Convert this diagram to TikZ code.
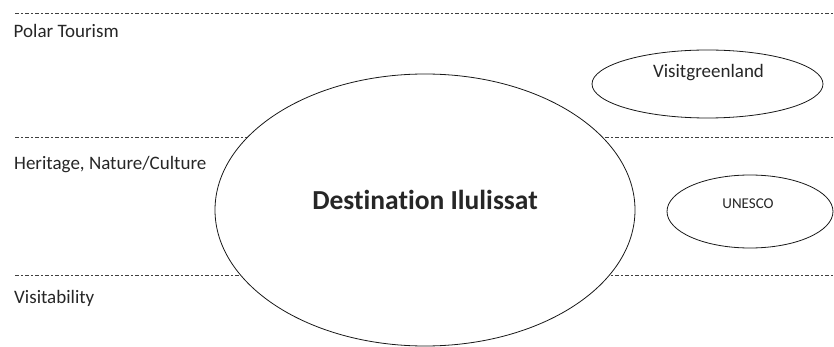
\documentclass[tikz,border=0pt]{standalone}
\usepackage{fontspec}
\setmainfont[Ligatures=NoCommon]{Carlito}
\begin{document}
\begin{tikzpicture}[x=1pt,y=-1pt,
  level/.style={draw=black!75, line width=0.75pt,
    dash pattern=on 4pt off 2.4pt on 1.2pt off 2.4pt},
  oval/.style={draw=black!90, line width=0.8pt, fill=white},
  bandlabel/.style={anchor=base west, inner sep=0pt, text=black!85,
    font=\fontsize{19}{22}\selectfont},
  ovallabel/.style={anchor=base, inner sep=0pt, text=black!85}]
\useasboundingbox (0,0) rectangle (834,347);

% band boundaries
\coordinate (l1a) at (15,13);   \coordinate (l1b) at (834,13);
\coordinate (l2a) at (15,137);  \coordinate (l2b) at (834,137);
\coordinate (l3a) at (15,275);  \coordinate (l3b) at (834,275);
\draw[level] (l1a) -- (l1b);
\draw[level] (l2a) -- (l2b);
\draw[level] (l3a) -- (l3b);

% band names
\node[bandlabel] (polar) at (13.5,37.5) {Polar Tourism};
\node[bandlabel] (heritage) at (14,170) {Heritage, Nature/Culture};
\node[bandlabel] (visit) at (14,303) {Visitability};

% ovals
\begin{scope}
\clip (0,0) rectangle (834,347);
\draw[oval] (425,210) ellipse [x radius=210, y radius=136];
\draw[oval] (707.5,84) ellipse [x radius=115.5, y radius=34];
\draw[oval] (750,211.5) ellipse [x radius=83, y radius=36.5];
\end{scope}

\node[ovallabel, font=\bfseries\fontsize{27.5}{32}\selectfont] (dest) at (425,210) {Destination Ilulissat};
\node[ovallabel, font=\fontsize{19}{22}\selectfont] (vg) at (708.5,78) {Visitgreenland};
\node[ovallabel, font=\fontsize{15}{18}\selectfont] (unesco) at (748,208) {UNESCO};
\end{tikzpicture}
\end{document}
